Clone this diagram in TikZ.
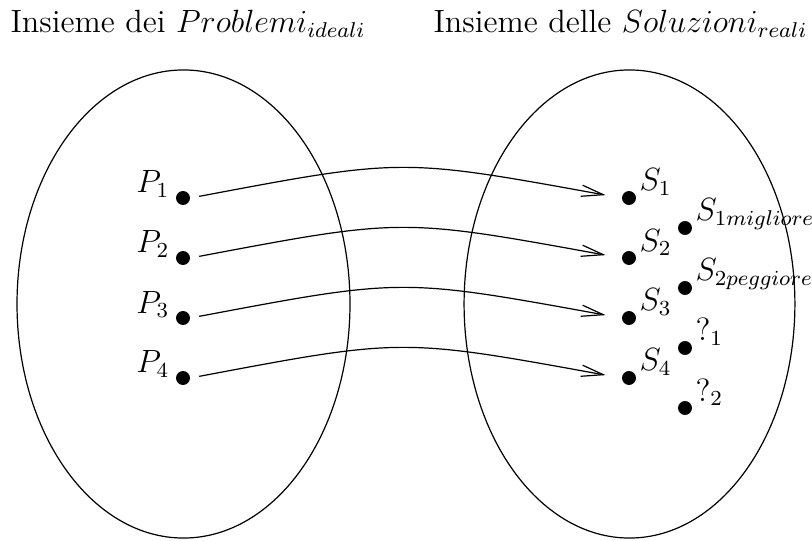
\documentclass[12pt,tikz,border=0pt]{standalone}
\usetikzlibrary{arrows.meta,calc}
\begin{document}
\begin{tikzpicture}[x=0.373pt,y=-0.373pt,
  dot/.style={circle,fill=black,inner sep=0pt,minimum size=5.2pt},
  setline/.style={draw,line width=0.45pt},
  lab/.style={inner sep=0pt},
  plab/.style={lab,anchor=base east},
  slab/.style={lab,anchor=base west},
  arr/.style={-{Straight Barb[length=8.2pt,width=4.2pt]},line width=0.45pt,shorten <=3.3pt,shorten >=6pt}]
\useasboundingbox (0,0) rectangle (812,541);
% sets
\draw[setline] (183.5,304) ellipse [x radius=62.1pt, y radius=87.3pt];
\draw[setline] (629.5,304) ellipse [x radius=61.7pt, y radius=87.3pt];
% headings
\node[slab] (h1) at (10,33) {Insieme dei $Problemi_{ideali}$};
\node[slab] (h2) at (433,33) {Insieme delle $Soluzioni_{reali}$};
% problem dots
\node[dot] (p1) at (183,198) {};
\node[dot] (p2) at (183,258) {};
\node[dot] (p3) at (183,318) {};
\node[dot] (p4) at (183,378) {};
% solution dots
\node[dot] (s1) at (629,198) {};
\node[dot] (s2) at (629,258) {};
\node[dot] (s3) at (629,318) {};
\node[dot] (s4) at (629,378) {};
\node[dot] (t1) at (685,228) {};
\node[dot] (t2) at (685,288) {};
\node[dot] (t3) at (685,348) {};
\node[dot] (t4) at (685,408) {};
% labels
\node[plab] (lp1) at ($(p1)+(-13,-5)$) {$P_1$};
\node[plab] (lp2) at ($(p2)+(-13,-5)$) {$P_2$};
\node[plab] (lp3) at ($(p3)+(-13,-5)$) {$P_3$};
\node[plab] (lp4) at ($(p4)+(-13,-5)$) {$P_4$};
\node[slab] (ls1) at ($(s1)+(10,-7)$) {$S_1$};
\node[slab] (ls2) at ($(s2)+(10,-7)$) {$S_2$};
\node[slab] (ls3) at ($(s3)+(10,-7)$) {$S_3$};
\node[slab] (ls4) at ($(s4)+(10,-7)$) {$S_4$};
\node[slab] (lt1) at ($(t1)+(10,-7)$) {$S_{1migliore}$};
\node[slab] (lt2) at ($(t2)+(10,-7)$) {$S_{2peggiore}$};
\node[slab] (lt3) at ($(t3)+(10,-7)$) {$?_1$};
\node[slab] (lt4) at ($(t4)+(10,-7)$) {$?_2$};
% mappings
\draw[arr] (p1.east) .. controls +(212,-40) and +(-220,-40) .. (s1.west);
\draw[arr] (p2.east) .. controls +(212,-40) and +(-220,-40) .. (s2.west);
\draw[arr] (p3.east) .. controls +(212,-40) and +(-220,-40) .. (s3.west);
\draw[arr] (p4.east) .. controls +(212,-40) and +(-220,-40) .. (s4.west);
\end{tikzpicture}
\end{document}
